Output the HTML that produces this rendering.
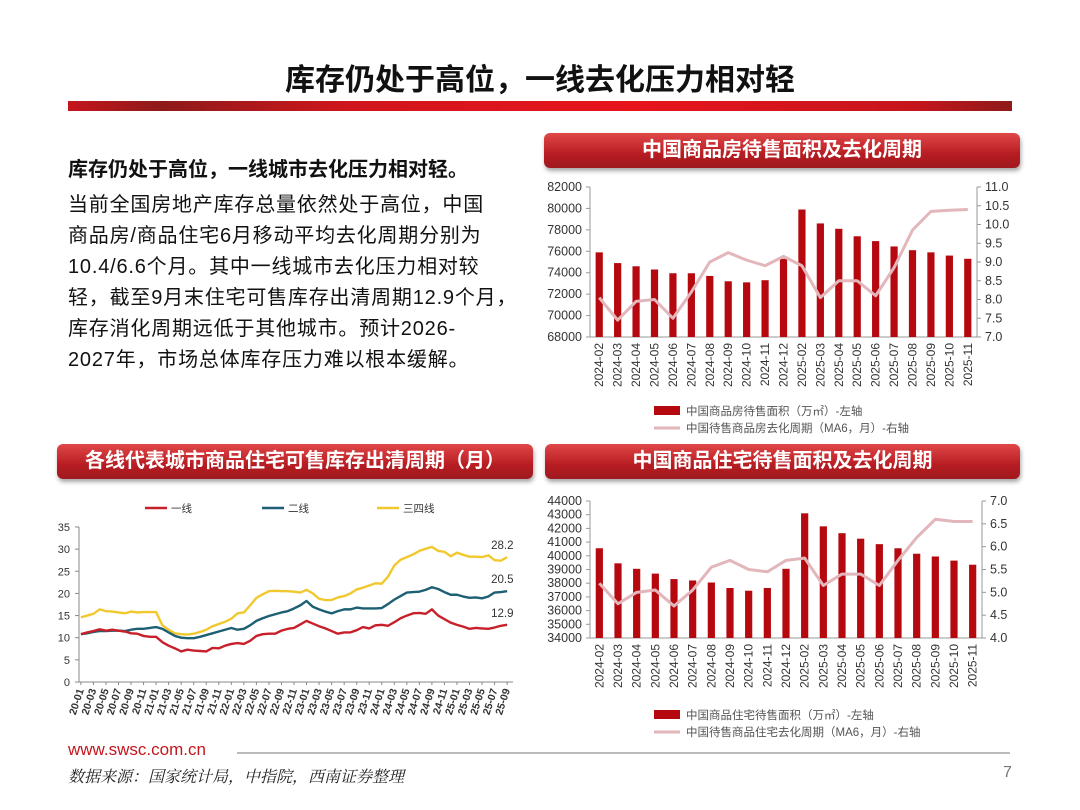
<!DOCTYPE html>
<html><head><meta charset="utf-8">
<style>
body{margin:0;width:1080px;height:810px;background:#fff;overflow:hidden;position:relative;font-family:"Liberation Sans","Noto Sans CJK SC",sans-serif}
.abs{position:absolute}
.hdr{position:absolute;height:35px;border-radius:6px;background:linear-gradient(#e04848,#b71c22 60%,#9e1a1e);color:#fff;font-weight:bold;font-size:20px;text-align:center;line-height:35px;box-shadow:1px 3px 4px rgba(0,0,0,.35)}
#para{left:68px;top:155px;font-size:20px;letter-spacing:0.8px;line-height:31px;color:#111;white-space:nowrap}
svg text{font-family:"Liberation Sans","Noto Sans CJK SC",sans-serif}
</style></head><body>
<div class="abs" style="left:0;width:1080px;top:55px;text-align:center;font-size:30px;font-weight:bold;color:#111">库存仍处于高位，一线去化压力相对轻</div>
<div class="abs" style="left:68px;top:101px;width:944px;height:10px;background:linear-gradient(90deg,#c4161c,#8e1a1a 10%,#d0161c 30%,#e8141c 60%,#c4161c 90%,#8e1a1a)"></div>
<div class="abs" id="para"><b style="letter-spacing:0">库存仍处于高位，一线城市去化压力相对轻。</b><br><span style="display:inline-block;margin-top:4px">当前全国房地产库存总量依然处于高位，中国</span><br>商品房/商品住宅6月移动平均去化周期分别为<br>10.4/6.6个月。其中一线城市去化压力相对较<br>轻，截至9月末住宅可售库存出清周期12.9个月，<br>库存消化周期远低于其他城市。预计2026-<br>2027年，市场总体库存压力难以根本缓解。</div>
<div class="hdr" style="left:544px;top:133px;width:476px">中国商品房待售面积及去化周期</div>
<div class="hdr" style="left:57px;top:444px;width:476px">各线代表城市商品住宅可售库存出清周期（月）</div>
<div class="hdr" style="left:545px;top:444px;width:475px">中国商品住宅待售面积及去化周期</div>
<svg id="svg" class="abs" style="left:0;top:0" width="1080" height="810"></svg>
<div class="abs" style="left:68px;top:740px;font-size:17px;color:#c4161c">www.swsc.com.cn</div>
<div class="abs" style="left:237px;top:752px;width:773px;height:2px;background:#bbb"></div>
<div class="abs" style="left:68px;top:764px;font-size:16px;font-style:italic;color:#222;font-family:'Liberation Serif','Noto Serif CJK SC',serif">数据来源：国家统计局，中指院，西南证券整理</div>
<div class="abs" style="left:1003px;top:764px;font-size:16px;color:#777">7</div>
<script>
const monthsA = ["2024-02","2024-03","2024-04","2024-05","2024-06","2024-07","2024-08","2024-09","2024-10","2024-11","2024-12","2025-02","2025-03","2025-04","2025-05","2025-06","2025-07","2025-08","2025-09","2025-10","2025-11"];
const houseArea = [75900,74900,74600,74300,73950,73950,73700,73200,73100,73300,75300,79900,78600,78100,77400,76950,76450,76100,75900,75600,75300];
const houseCycle = [8.05,7.45,7.95,8.0,7.5,8.2,9.0,9.25,9.05,8.9,9.15,8.9,8.05,8.5,8.5,8.1,8.85,9.85,10.35,10.38,10.4];
const resArea = [40550,39450,39050,38700,38300,38200,38050,37650,37450,37650,39050,43100,42150,41650,41250,40850,40550,40150,39950,39650,39350];
const resCycle = [5.2,4.75,5.0,5.05,4.7,5.05,5.55,5.7,5.5,5.45,5.7,5.75,5.15,5.4,5.4,5.15,5.7,6.2,6.6,6.55,6.55];
const tier1 = [10.8,11.2,11.5,11.9,11.6,11.8,11.6,11.4,11.0,10.9,10.4,10.2, 10.2,9.0,8.2,7.6,6.9,7.3,7.1,7.0,6.9,7.7,7.6,8.2, 8.6,8.8,8.6,9.3,10.4,10.8,10.9,10.9,11.6,12.0,12.2,13.0, 13.8,13.2,12.6,12.1,11.5,10.9,11.2,11.2,11.7,12.4,12.1,12.8, 12.9,12.7,13.5,14.4,15.0,15.5,15.6,15.4,16.4,15.0,14.2,13.4, 12.9,12.5,12.0,12.2,12.1,12.0,12.3,12.7,12.9];
const tier2 = [10.8,11.0,11.3,11.5,11.5,11.6,11.6,11.5,11.8,12.0,12.0,12.2, 12.4,12.0,11.2,10.4,10.0,9.9,9.9,10.2,10.6,11.0,11.4,11.8, 12.2,11.8,12.0,12.8,13.8,14.4,14.9,15.3,15.7,16.0,16.6,17.3, 18.3,17.0,16.4,15.9,15.5,16.0,16.4,16.4,16.8,16.6,16.6,16.6, 16.7,17.6,18.6,19.4,20.2,20.3,20.4,20.8,21.4,21.0,20.3,19.7, 19.7,19.3,19.0,19.1,18.9,19.3,20.2,20.3,20.5];
const tier3 = [14.6,15.0,15.4,16.4,16.0,15.9,15.7,15.5,15.9,15.7,15.8,15.8, 15.8,12.8,11.8,11.0,10.8,10.7,10.9,11.3,11.8,12.6,13.1,13.6, 14.3,15.5,15.7,17.3,19.0,19.8,20.5,20.6,20.5,20.5,20.4,20.2, 20.8,20.0,18.8,18.5,18.5,19.1,19.4,20.0,20.9,21.3,21.8,22.3, 22.2,23.8,26.3,27.6,28.2,28.8,29.6,30.1,30.5,29.6,29.4,28.4, 29.2,28.7,28.3,28.3,28.2,28.6,27.5,27.4,28.2];
const leftTicksA=[68000,70000,72000,74000,76000,78000,80000,82000];
const rightTicksA=[7.0,7.5,8.0,8.5,9.0,9.5,10.0,10.5,11.0];
const leftTicksB=[34000,35000,36000,37000,38000,39000,40000,41000,42000,43000,44000];
const rightTicksB=[4.0,4.5,5.0,5.5,6.0,6.5,7.0];
const ticksC=[0,5,10,15,20,25,30,35];

const NS="http://www.w3.org/2000/svg", svg=document.getElementById('svg');
function el(t,a,p){const e=document.createElementNS(NS,t);for(const k in a)e.setAttribute(k,a[k]);(p||svg).appendChild(e);return e;}
function txt(s,a,p){const e=el('text',a,p);e.textContent=s;return e;}

function barLine(cfg){
  const g=el('g',{});
  
  
  const {x0,x1,y0,y1,lmin,lmax,rmin,rmax}=cfg;
  const yL=v=>y1-(v-lmin)/(lmax-lmin)*(y1-y0);
  const yR=v=>y1-(v-rmin)/(rmax-rmin)*(y1-y0);
  const band=(x1-x0)/cfg.cats.length, xc=i=>x0+band*(i+0.5);
  el('line',{x1:x0,y1:y0,x2:x0,y2:y1,stroke:'#999'},g);
  el('line',{x1:x1,y1:y0,x2:x1,y2:y1,stroke:'#999'},g);
  el('line',{x1:x0,y1:y1,x2:x1,y2:y1,stroke:'#999'},g);
  cfg.lt.forEach(v=>{const y=yL(v);el('line',{x1:x0-4,y1:y,x2:x0,y2:y,stroke:'#999'},g);
    const t=txt(String(v),{x:x0-8,y:y+4,'text-anchor':'end','font-size':12.5,fill:'#333'},g);
    
    });
  cfg.rt.forEach(v=>{const y=yR(v);el('line',{x1:x1,y1:y,x2:x1+4,y2:y,stroke:'#999'},g);
    const t=txt(v.toFixed(1),{x:x1+8,y:y+4,'font-size':12.5,fill:'#333'},g);
    
    });
  cfg.bars.forEach((v,i)=>{const r=el('rect',{x:xc(i)-3.6,y:yL(v),width:7.2,height:y1-yL(v),fill:'#b5080f'},g);
    
    });
  const p=el('polyline',{points:cfg.line.map((v,i)=>xc(i)+','+yR(v)).join(' '),fill:'none',stroke:'#e2b6ba','stroke-width':3,'stroke-linejoin':'round'},g);
  
  
  cfg.cats.forEach((c,i)=>{const t=txt(c,{x:0,y:0,transform:`translate(${xc(i)+4},${y1+6}) rotate(-90)`,'text-anchor':'end','font-size':12,fill:'#333'},g);
    
    });
  const ly=cfg.legY;
  const lb=el('rect',{x:654,y:ly-5,width:26,height:9,fill:'#b5080f'},g);
  
  
  const l1=txt(cfg.leg1,{x:686,y:ly+4,'font-size':11.5,fill:'#555'},g);
  
  
  const ll=el('line',{x1:654,y1:ly+17,x2:680,y2:ly+17,stroke:'#e2b6ba','stroke-width':3},g);
  
  
  const l2=txt(cfg.leg2,{x:686,y:ly+21,'font-size':11.5,fill:'#555'},g);
  
  
}
barLine({name:'chart-commercial-housing',cats:monthsA,bars:houseArea,line:houseCycle,x0:590,x1:977,y0:187,y1:337,lmin:68000,lmax:82000,rmin:7,rmax:11,lt:leftTicksA,rt:rightTicksA,legY:411,leg1:'中国商品房待售面积（万㎡）-左轴',leg2:'中国待售商品房去化周期（MA6，月）-右轴'});
barLine({name:'chart-residential-housing',cats:monthsA,bars:resArea,line:resCycle,x0:590,x1:982,y0:501,y1:638,lmin:34000,lmax:44000,rmin:4,rmax:7,lt:leftTicksB,rt:rightTicksB,legY:715,leg1:'中国商品住宅待售面积（万㎡）-左轴',leg2:'中国待售商品住宅去化周期（MA6，月）-右轴'});

(function(){
  const g=el('g',{});
  
  
  const x0=79,x1=513,y0=527,y1=682,n=tier1.length;
  const X=i=>x0+(i+0.3)*(x1-x0-4)/(n-0.4), Y=v=>y1-v/35*(y1-y0);
  el('line',{x1:x0,y1:y0,x2:x0,y2:y1,stroke:'#888'},g);
  el('line',{x1:x0,y1:y1,x2:x1,y2:y1,stroke:'#888'},g);
  ticksC.forEach(v=>{el('line',{x1:x0-4,y1:Y(v),x2:x0,y2:Y(v),stroke:'#888'},g);
    const t=txt(String(v),{x:x0-9,y:Y(v)+4,'text-anchor':'end','font-size':11,fill:'#333'},g);
    
    });
  for(let i=0;i<n;i+=2){const yr=20+Math.floor(i/12),m=i%12+1;
    const lab=yr+'-'+(m<10?'0':'')+m;
    el('line',{x1:X(i),y1:y1,x2:X(i),y2:y1+3,stroke:'#888'},g);
    const t=txt(lab,{x:0,y:0,transform:`translate(${X(i)+3},${y1+8}) rotate(-72)`,'text-anchor':'end','font-size':10.5,'font-weight':'bold',fill:'#333'},g);
    
    }
  const series=[[tier3,'#f2c82f','tier3-line'],[tier2,'#1d5f73','tier2-line'],[tier1,'#c8202a','tier1-line']];
  series.forEach(([d,c,nm])=>{const p=el('polyline',{points:d.map((v,i)=>X(i)+','+Y(v)).join(' '),fill:'none',stroke:c,'stroke-width':2.4,'stroke-linejoin':'round'},g);
    
    
    const t=txt(d[n-1].toFixed(1),{x:X(n-1)-16,y:Y(d[n-1])-8,'font-size':11.5,fill:'#333'},g);
    
    });
  [['一线','#c8202a',145],['二线','#1d5f73',262],['三四线','#f2c82f',377]].forEach(([s,c,x])=>{
    const l=el('line',{x1:x,y1:508,x2:x+22,y2:508,stroke:c,'stroke-width':2.5},g);
    
    
    const t=txt(s,{x:x+26,y:512,'font-size':10.5,fill:'#333'},g);
    
    });
})();
</script>
</body></html>
